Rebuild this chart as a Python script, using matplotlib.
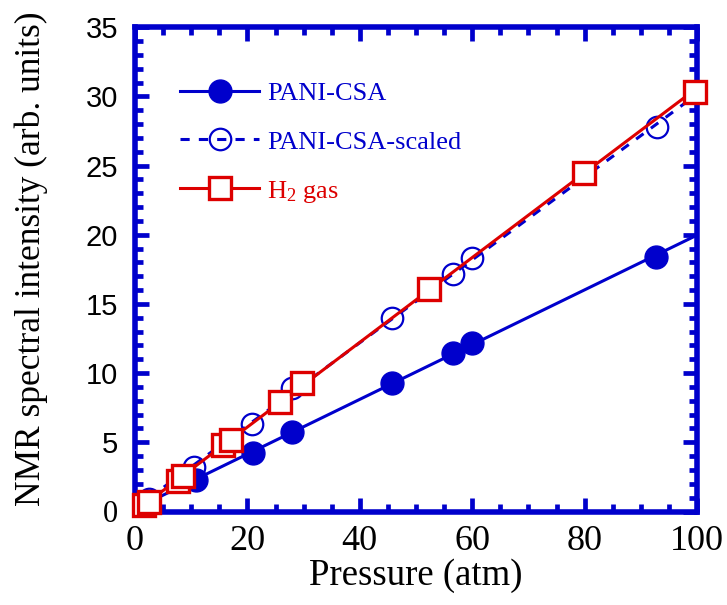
import numpy as np
import matplotlib
matplotlib.use("Agg")
import matplotlib.pyplot as plt
from matplotlib.ticker import MultipleLocator

# ---- data ----
p_csa = [2.5, 10.8, 21.0, 27.9, 45.8, 56.5, 60.0, 92.7]
i_csa = [0.7, 2.3, 4.2, 5.75, 9.3, 11.45, 12.2, 18.4]

p_scaled = [2.5, 10.5, 20.8, 28.0, 45.8, 56.5, 59.9, 92.8]
i_scaled = [0.9, 3.2, 6.35, 8.9, 14.0, 17.2, 18.3, 27.8]

p_h2 = [1.65, 2.5, 7.65, 8.6, 15.7, 17.1, 25.8, 29.7, 52.4, 79.9, 99.6]
i_h2 = [0.45, 0.7, 2.2, 2.6, 4.8, 5.2, 7.9, 9.3, 16.1, 24.5, 30.35]

labels = ["PANI-CSA", "PANI-CSA-scaled", "H$_2$ gas"]
xticks = [0, 20, 40, 60, 80, 100]
yticks = [0, 5, 10, 15, 20, 25, 30, 35]

BLUE = "#0000CC"
RED = "#DD0000"

plt.rcParams["font.family"] = ["Liberation Serif", "DejaVu Serif"]
plt.rcParams["mathtext.fontset"] = "custom"
plt.rcParams["mathtext.rm"] = "Liberation Serif"
plt.rcParams["mathtext.it"] = "Liberation Serif:italic"

fig = plt.figure(figsize=(7.27, 6.05), dpi=100)
ax = fig.add_axes([135 / 727, 1 - 511.5 / 605, (697 - 135) / 727, (511.5 - 27.3) / 605])


def fit_line(x, y, x0, x1):
    k, b = np.polyfit(np.asarray(x), np.asarray(y), 1)
    xs = np.array([x0, x1])
    return xs, k * xs + b


# fitted lines
xs, ys = fit_line(p_csa, i_csa, min(p_csa), 100)
ax.plot(xs, ys, color=BLUE, lw=2.2, zorder=3)
xs, ys = fit_line(p_scaled, i_scaled, min(p_scaled), 100)
ax.plot(xs, ys, color=BLUE, lw=2.2, ls=(0, (3, 3)), zorder=3)
xs, ys = fit_line(p_h2, i_h2, min(p_h2), 100)
ax.plot(xs, ys, color=RED, lw=2.2, zorder=4.5)

# markers
ax.plot(p_csa, i_csa, ls="none", marker="o", ms=16.5, mfc=BLUE, mec=BLUE,
        zorder=4, clip_on=False)
ax.plot(p_scaled, i_scaled, ls="none", marker="o", ms=15.5, mfc="none",
        mec=BLUE, mew=1.6, zorder=4, clip_on=False)
ax.plot(p_h2, i_h2, ls="none", marker="s", ms=15.5, mfc="white", mec=RED,
        mew=2.4, zorder=6, clip_on=False)

# legend handles
h1, = ax.plot([], [], color=BLUE, lw=2.2, marker="o", ms=16.5, mfc=BLUE, mec=BLUE)
h2, = ax.plot([], [], color=BLUE, lw=2.2, ls=(0, (3, 3)), marker="o", ms=15.5,
              mfc="none", mec=BLUE, mew=1.6)
h3, = ax.plot([], [], color=RED, lw=2.2, marker="s", ms=15.5, mfc="white",
              mec=RED, mew=2.4)
leg = ax.legend([h1, h2, h3], labels, loc="upper left",
                bbox_to_anchor=(0.08, 0.888), frameon=False, fontsize=19,
                handlelength=3.0, handletextpad=0.3, labelspacing=0.95,
                borderaxespad=0, borderpad=0, numpoints=1)
for t, c in zip(leg.get_texts(), [BLUE, BLUE, RED]):
    t.set_color(c)

ax.set_xlim(0, 100)
ax.set_ylim(0, 35)
ax.set_xticks(xticks)
ax.set_yticks(yticks)
ax.xaxis.set_minor_locator(MultipleLocator(5))
ax.yaxis.set_minor_locator(MultipleLocator(1))

for s in ax.spines.values():
    s.set_color(BLUE)
    s.set_linewidth(4)

ax.tick_params(which="both", direction="in", top=True, right=True, color=BLUE)
ax.tick_params(which="major", length=10, width=3.4)
ax.tick_params(which="minor", length=6, width=3.4)
ax.tick_params(axis="x", which="major", labelsize=26, pad=10)
ax.tick_params(axis="y", which="major", labelsize=21, pad=12)

for lab in ax.get_xticklabels():
    lab.set_fontfamily(["Liberation Serif"])
for lab, v in zip(ax.get_yticklabels(), yticks):
    if v == 0:
        lab.set_fontfamily(["Liberation Serif"])
        lab.set_fontsize(22)
    else:
        lab.set_fontfamily(["Liberation Sans"])

ax.set_xlabel("Pressure (atm)", fontsize=26.5)
ax.xaxis.set_label_coords(0.5, -0.097)
ax.set_ylabel("NMR spectral intensity (arb. units)", fontsize=25.5)
ax.yaxis.set_label_coords(-0.155, 0.523)

fig.savefig("out.png", dpi=100)
